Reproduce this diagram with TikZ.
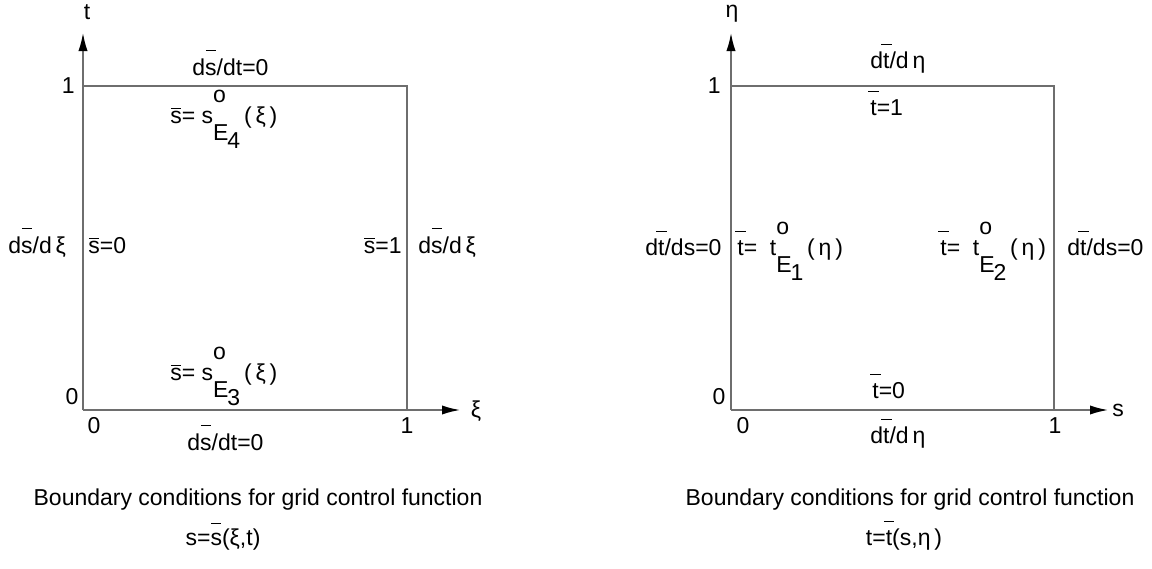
\documentclass[tikz,border=0pt]{standalone}
\usepackage{fontspec}
\setmainfont{Liberation Sans}
\usetikzlibrary{positioning,arrows.meta}
\definecolor{axisgray}{HTML}{6E6E6E}

% bar over a letter, raised by the optional height
\newcommand\ob[2][0.95em]{{\ooalign{#2\cr\hidewidth\raisebox{#1}{\rule{0.45em}{0.55pt}}\hidewidth\cr}}}
% stacked superscript o and subscript E_n
\newcommand\oE[1]{\rlap{\raisebox{0.9em}{o}}\raisebox{-0.75em}{E\kern-0.05em\raisebox{-0.35em}{#1}}}

\begin{document}
\begin{tikzpicture}[
  x=0.5pt, y=-0.5pt,
  every node/.style={font=\fontsize{11.5}{13}\selectfont, inner sep=0pt},
  frame/.style={draw=axisgray, line width=0.75pt},
  axis/.style={draw=axisgray, line width=0.75pt, -{Latex[length=9pt,width=4.6pt,color=black]}},
  lbl/.style={anchor=base west},
  lblr/.style={anchor=base east},
  capt/.style={anchor=base},
]
  \useasboundingbox (0,0) rectangle (1152,568);

  % Left panel corners
  \coordinate (lo) at (83,410);
  \coordinate (ltl) at (83,86);
  \coordinate (ltr) at (407,86);
  \coordinate (lbr) at (407,410);
  \coordinate (lxe) at (460,410);
  \coordinate (lye) at (83,33);

  \draw[frame] (ltl) -- (ltr) -- (lbr);
  \draw[axis] (lo) -- (lxe);
  \draw[axis] (lo) -- (lye);

  % Left panel ticks
  \node (lt) at (87,12) {t};
  \node[left=4pt of ltl] (lone) {1};
  \node (lzero) at (72,397) {0};
  \node (lzerob) at (94,426) {0};
  \node (loneb) at (407,426) {1};
  \node (lxi) at (476,411) {ξ};

  % Left panel conditions
  \node[lbl] (ltop) at (192,75) {d\ob[1.05em]{s}/dt=0};
  \node[lbl] (le4) at (170,123) {\ob[0.62em]{s}= s\oE{4}\,(\,ξ\,)};
  \node[lbl] (lwo) at (8,253) {d\ob[1.05em]{s}/d\,ξ};
  \node[lbl] (lwi) at (88,253) {\ob[0.62em]{s}=0};
  \node[lblr] (lei) at (402,253) {\ob[0.62em]{s}=1};
  \node[lbl] (leo) at (418,253) {d\ob[1.05em]{s}/d\,ξ};
  \node[lbl] (le3) at (170,380) {\ob[0.62em]{s}= s\oE{3}\,(\,ξ\,)};
  \node[lbl] (lbot) at (187,450) {d\ob[1.05em]{s}/dt=0};

  % Left caption
  \node[capt] (lcap) at (258,505) {Boundary conditions for grid control function};
  \node[capt] (lfun) at (223,545) {s=\ob[0.9em]{s}(ξ,t)};

  % Right panel corners
  \coordinate (ro) at (731,410);
  \coordinate (rtl) at (731,86);
  \coordinate (rtr) at (1054,86);
  \coordinate (rbr) at (1054,410);
  \coordinate (rxe) at (1108,410);
  \coordinate (rye) at (731,33);

  \draw[frame] (rtl) -- (rtr) -- (rbr);
  \draw[axis] (ro) -- (rxe);
  \draw[axis] (ro) -- (rye);

  % Right panel ticks
  \node (reta) at (732,14) {η};
  \node[left=5pt of rtl] (rone) {1};
  \node (rzero) at (719,397) {0};
  \node (rzerob) at (743,426) {0};
  \node (roneb) at (1055,426) {1};
  \node (rs) at (1118,410) {s};

  % Right panel conditions
  \node[lbl] (rtop) at (870,68) {d\ob[1em]{t}/d\,η};
  \node[lbl] (rtone) at (870,115) {\ob[1em]{t}=1};
  \node[lbl] (rwo) at (645,255) {d\ob[1em]{t}/ds=0};
  \node[lbl] (re1) at (737,255) {\ob[1em]{t}=\ \ t\oE{1}\,(\,η\,)};
  \node[lbl] (re2) at (940,255) {\ob[1em]{t}=\ \ t\oE{2}\,(\,η\,)};
  \node[lbl] (reo) at (1067,255) {d\ob[1em]{t}/ds=0};
  \node[lbl] (rtzero) at (872,398) {\ob[1em]{t}=0};
  \node[lbl] (rbot) at (870,443) {d\ob[1em]{t}/d\,η};

  % Right caption
  \node[capt] (rcap) at (910,505) {Boundary conditions for grid control function};
  \node[capt] (rfun) at (904,545) {t=\ob[1em]{t}(s,η\,)};
\end{tikzpicture}
\end{document}
